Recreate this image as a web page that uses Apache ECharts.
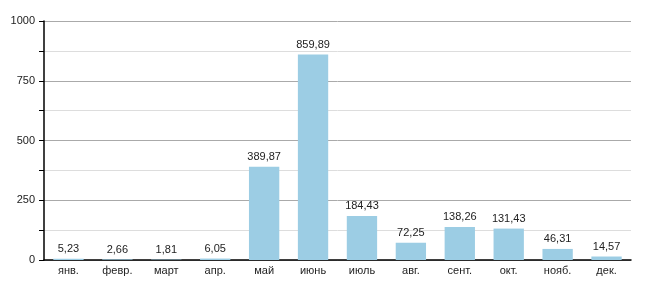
<!DOCTYPE html>
<html><head><meta charset="utf-8">
<script src="https://cdn.jsdelivr.net/npm/echarts@6/dist/echarts.min.js"></script>
<style>html,body{margin:0;padding:0;background:#fff}#c{width:650px;height:300px}</style>
</head><body><div id="c"></div>
<script>
const categories = ['янв.','февр.','март','апр.','май','июнь','июль','авг.','сент.','окт.','нояб.','дек.'];
const values = [5.23, 2.66, 1.81, 6.05, 389.87, 859.89, 184.43, 72.25, 138.26, 131.43, 46.31, 14.57];
const yTicks = [0, 250, 500, 750, 1000];

const chart = echarts.init(document.getElementById('c'), null, {renderer:'canvas'});
chart.setOption({
  animation: false,
  textStyle: {fontFamily: 'Liberation Sans, Arial, sans-serif'},
  grid: {left: 44, right: 19, top: 21, bottom: 40, containLabel: false},
  xAxis: {
    type: 'category', data: categories,
    axisLine: {lineStyle: {color: '#000', width: 1.5}},
    axisTick: {show: false},
    axisLabel: {color: '#222', fontSize: 11, margin: 5}
  },
  yAxis: {
    type: 'value', min: yTicks[0], max: yTicks[yTicks.length-1], interval: 250,
    axisLine: {show: true, lineStyle: {color: '#000', width: 1.5}},
    axisTick: {show: true, inside: false, length: 5, lineStyle: {color: '#000'}},
    minorTick: {show: true, splitNumber: 2, length: 5, lineStyle: {color: '#000'}},
    axisLabel: {color: '#222', fontSize: 11, margin: 9, formatter: v => String(v)},
    splitLine: {lineStyle: {color: '#aaa', width: 1}},
    minorSplitLine: {show: true, lineStyle: {color: '#ddd', width: 1}}
  },
  series: [{
    type: 'bar', data: values, barWidth: '62%',
    itemStyle: {color: '#9ccde4'},
    label: {show: true, position: 'top', color: '#222', fontSize: 11, distance: 4,
      formatter: p => p.value.toFixed(2).replace('.', ',')}
  }]
});
</script></body></html>
